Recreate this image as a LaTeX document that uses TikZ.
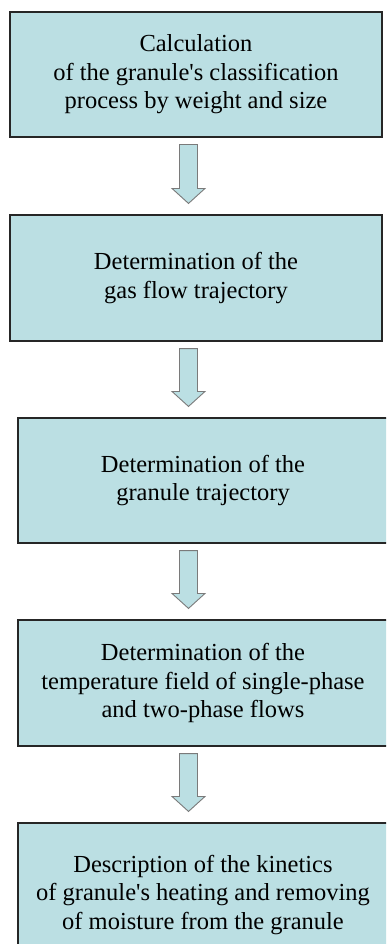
\documentclass[tikz,border=0pt]{standalone}
\usepackage{fontspec}
\setmainfont{Liberation Serif}
\usetikzlibrary{calc}
\definecolor{boxfill}{HTML}{BBDFE3}
\definecolor{boxline}{HTML}{262626}
\definecolor{arrline}{HTML}{7A7A7A}
\tikzset{
  stepbox/.style={draw=boxline, line width=1.1pt, fill=boxfill, rectangle,
    inner sep=0pt, align=center, font=\fontsize{24.5}{28.5}\selectfont},
  fatarrow/.style={draw=arrline, line width=0.9pt, fill=boxfill, line join=miter},
}
\newcommand{\fatarr}[2]{%
  \draw[fatarrow]
    ($(ax |- #1.south)+(-9,7)$) -- ($(ax |- #1.south)+(9,7)$) --
    ($(ax |- #2.north)+(9,-26)$) -- ($(ax |- #2.north)+(16.5,-26)$) --
    ($(ax |- #2.north)+(0,-11)$) -- ($(ax |- #2.north)+(-16.5,-26)$) --
    ($(ax |- #2.north)+(-9,-26)$) -- cycle;}
\begin{document}
\begin{tikzpicture}[x=1pt,y=-1pt]
\useasboundingbox (0,0) rectangle (386,944);
\clip (0,0) rectangle (386,944);
\fill[white] (0,0) rectangle (386,944);
\coordinate (ax) at (188.5,0);
\node[stepbox, minimum width=372pt, minimum height=125pt] (b1) at (196,74.5)
  {Calculation\\of the granule\textquotesingle s classification\\process by weight and size};
\node[stepbox, minimum width=372pt, minimum height=126pt] (b2) at (196,278)
  {Determination of the\\gas flow trajectory};
\node[stepbox, minimum width=370pt, minimum height=125pt] (b3) at (203,480.5)
  {Determination of the\\granule trajectory};
\node[stepbox, minimum width=370pt, minimum height=126pt] (b4) at (203,683)
  {Determination of the\\temperature field of single-phase\\and two-phase flows};
\node[stepbox, minimum width=370pt, minimum height=144pt] (b5) at (203,895)
  {Description of the kinetics\\of granule\textquotesingle s heating and removing\\of moisture from the granule};
\fatarr{b1}{b2}
\fatarr{b2}{b3}
\fatarr{b3}{b4}
\fatarr{b4}{b5}
\end{tikzpicture}
\end{document}
